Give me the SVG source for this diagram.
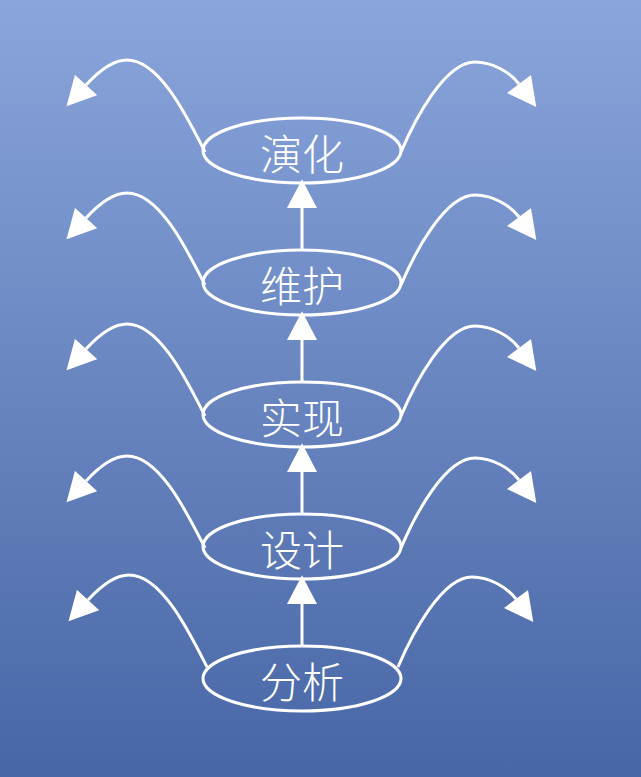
<svg xmlns="http://www.w3.org/2000/svg" width="641" height="777" viewBox="0 0 641 777">
<defs>
<linearGradient id="bg" x1="0" y1="0" x2="0" y2="1">
<stop offset="0" stop-color="#8aa5db"/>
<stop offset="1" stop-color="#4866a6"/>
</linearGradient>
<marker id="ah" markerUnits="userSpaceOnUse" markerWidth="30" markerHeight="30" viewBox="0 0 25 26" refX="0" refY="13" orient="auto">
<path d="M0,0 L25,13 L0,26 Z" fill="#fff"/>
</marker>
<path id="lc" d="M205,0 C188,-33 160,-92 127,-92 C112,-92 97,-79 86,-67"/>
<path id="rc" d="M401,0 C415,-33 445,-90 475,-90 C492,-90 510,-80 519,-68"/>
</defs>
<style>
.n ellipse{fill:none;stroke:#fff;stroke-width:3}
.n text{font-family:"Noto Sans CJK SC","Noto Sans",sans-serif;font-size:42px;font-weight:300;fill:#fff;text-anchor:middle;dominant-baseline:central}
.c path,.c line,.c use{fill:none;stroke:#fff;stroke-width:3;marker-end:url(#ah)}
</style>
<rect width="641" height="777" fill="url(#bg)"/>
<g class="c" id="connectors">
<line x1="302" y1="250" x2="302" y2="208"/>
<line x1="302" y1="382" x2="302" y2="340"/>
<line x1="302" y1="514" x2="302" y2="472"/>
<line x1="302" y1="646" x2="302" y2="604"/>
<use href="#lc" transform="translate(0,152)"/>
<use href="#rc" transform="translate(0,152)"/>
<use href="#lc" transform="translate(0,285)"/>
<use href="#rc" transform="translate(0,285)"/>
<use href="#lc" transform="translate(0,416)"/>
<use href="#rc" transform="translate(0,416)"/>
<use href="#lc" transform="translate(0,548)"/>
<use href="#rc" transform="translate(0,548)"/>
<use href="#lc" transform="translate(2,667)"/>
<use href="#rc" transform="translate(-3,667)"/>
</g>
<g class="n" id="n1"><ellipse cx="302" cy="150.5" rx="99" ry="32.5"/><text x="302" y="151">演化</text></g>
<g class="n" id="n2"><ellipse cx="302" cy="282.5" rx="99" ry="32.5"/><text x="302" y="283">维护</text></g>
<g class="n" id="n3"><ellipse cx="302" cy="414.5" rx="99" ry="32.5"/><text x="302" y="415">实现</text></g>
<g class="n" id="n4"><ellipse cx="302" cy="546.5" rx="99" ry="32.5"/><text x="302" y="547">设计</text></g>
<g class="n" id="n5"><ellipse cx="302" cy="678.5" rx="99" ry="32.5"/><text x="302" y="679">分析</text></g>
</svg>
